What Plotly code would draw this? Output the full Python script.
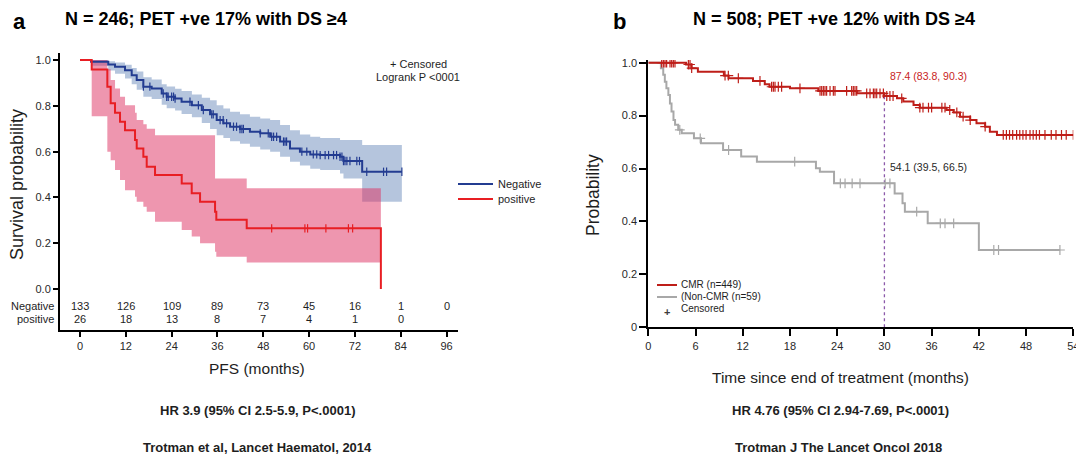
import plotly.graph_objects as go

# the page body adds an 8px margin, so the figure is drawn 8px smaller and positions are shifted
OFF = 8
W, H = 1084 - OFF, 459 - OFF

# ---------------- Panel a data ----------------
neg_t = [0, 2.9, 7.4, 9.17, 11.79, 13.54, 14.85, 16.59, 18.77, 21.4, 22.7, 24.9, 26.6, 29.3, 31.9,
         34.06, 35.8, 37.55, 39.3, 41.9, 44.5, 47.2, 49.8, 52.4, 55.0, 57.6, 60.3, 62.9, 68.1, 69.0, 73.9]
neg_s = [1.0, 0.993, 0.981, 0.971, 0.956, 0.934, 0.913, 0.884, 0.876, 0.854, 0.840, 0.832, 0.818, 0.803, 0.782,
         0.763, 0.738, 0.724, 0.709, 0.699, 0.687, 0.680, 0.665, 0.644, 0.614, 0.600, 0.588, 0.585, 0.578, 0.559, 0.512]
neg_up = [1.0, 1.0, 0.995, 0.99, 0.98, 0.965, 0.95, 0.925, 0.915, 0.895, 0.885, 0.875, 0.865, 0.85, 0.835,
          0.825, 0.803, 0.789, 0.774, 0.763, 0.753, 0.745, 0.738, 0.716, 0.694, 0.675, 0.665, 0.660, 0.651, 0.651, 0.629]
neg_lo = [1.0, 0.975, 0.955, 0.94, 0.92, 0.895, 0.87, 0.84, 0.83, 0.805, 0.79, 0.78, 0.765, 0.75, 0.725,
          0.699, 0.672, 0.66, 0.645, 0.635, 0.622, 0.610, 0.600, 0.578, 0.556, 0.54, 0.525, 0.520, 0.505, 0.483, 0.381]
neg_end = 84.3
neg_cens = [16.6, 18.3, 21.8, 22.7, 23.1, 24.0, 24.5, 24.9, 28.8, 31.0, 32.3, 34.5, 34.9, 36.7, 37.5, 38.4,
            40.2, 41.0, 41.9, 42.4, 42.8, 47.2, 49.3, 50.2, 50.7, 51.5, 53.3, 53.7, 54.1, 58.1, 59.4, 61.1,
            62.0, 62.9, 64.2, 65.1, 66.4, 67.2, 68.1, 68.6, 69.0, 69.4, 69.9, 70.7, 72.5, 73.2, 75.1, 79.5,
            80.3, 84.3]

pos_t = [0, 3.06, 7.16, 8.03, 9.17, 10.48, 11.79, 14.41, 14.85, 16.59, 17.47, 19.65, 26.64, 29.26, 31.44,
         35.37, 35.7, 43.66, 78.8]
pos_s = [1.0, 0.959, 0.884, 0.811, 0.770, 0.731, 0.694, 0.651, 0.614, 0.578, 0.534, 0.498, 0.461, 0.418, 0.381,
         0.338, 0.303, 0.265, 0.0]
band_t = [3.06, 7.16, 8.03, 9.17, 10.48, 11.79, 14.41, 14.85, 16.59, 17.47, 19.65, 26.64, 29.26, 31.44,
          35.37, 35.7, 43.66]
pos_up = [1.0, 0.96, 0.913, 0.876, 0.84, 0.803, 0.77, 0.738, 0.72, 0.70, 0.672, 0.672, 0.672, 0.672,
          0.483, 0.483, 0.44]
pos_lo = [0.755, 0.60, 0.563, 0.52, 0.476, 0.432, 0.403, 0.381, 0.359, 0.338, 0.294, 0.258, 0.229, 0.20,
          0.163, 0.141, 0.116]
pos_end = 78.8
pos_cens = [50.2, 58.9, 59.6, 64.4, 70.3, 71.4]

risk_times = [0, 12, 24, 36, 48, 60, 72, 84, 96]
risk_neg = [133, 126, 109, 89, 73, 45, 16, 1, 0]
risk_pos = [26, 18, 13, 8, 7, 4, 1, 0]

# ---------------- Panel b data ----------------
cmr_t = [0, 4.8, 5.5, 6.3, 9.6, 10.2, 13.3, 14.8, 15.4, 18.0, 21.6, 26.5, 30.0, 31.6, 32.4, 33.7, 34.5,
         37.9, 38.8, 39.6, 40.9, 41.7, 42.8, 43.4, 44.3]
cmr_s = [1.0, 0.993, 0.979, 0.966, 0.951, 0.941, 0.931, 0.918, 0.909, 0.903, 0.893, 0.884, 0.874, 0.865,
         0.853, 0.840, 0.830, 0.821, 0.812, 0.796, 0.783, 0.771, 0.758, 0.739, 0.727]
cmr_end = 54.0
cmr_cens = [1.7, 1.91, 2.12, 2.33, 2.76, 2.97, 3.18, 3.39, 5.09, 5.3, 5.51, 9.75, 10.17, 11.44, 14.19,
            15.67, 15.89, 16.1, 16.52, 16.94, 19.27, 21.82, 22.03, 22.24, 22.45, 22.66, 23.09, 23.51, 23.72,
            25.2, 25.84, 26.05, 26.26, 26.48, 27.75, 28.17, 28.6, 28.8, 29.02, 29.44, 29.87, 30.3, 30.7,
            31.1, 32.2, 34.5, 34.9, 35.6, 36.0, 37.3, 37.7, 38.3, 39.2, 40.0, 40.9, 42.8, 45.1, 45.5, 45.9,
            46.3, 46.8, 47.2, 47.6, 48.0, 48.5, 48.9, 49.3, 49.7, 50.4, 51.2, 51.8, 52.5, 53.1, 54.0]

ncmr_t = [0, 1.6, 1.9, 2.1, 2.3, 2.55, 2.75, 2.95, 3.2, 3.4, 3.8, 4.25, 5.8, 6.7, 9.5, 11.8, 13.8, 21.3,
          21.8, 23.6, 31.3, 32.3, 32.6, 35.5, 42.0]
ncmr_s = [1.0, 0.979, 0.954, 0.928, 0.903, 0.878, 0.846, 0.815, 0.783, 0.765, 0.746, 0.733, 0.714, 0.695,
          0.670, 0.645, 0.626, 0.601, 0.588, 0.544, 0.506, 0.469, 0.437, 0.393, 0.292]
ncmr_end = 52.3
ncmr_cens = [4.0, 6.6, 10.2, 18.6, 24.4, 25.0, 25.9, 26.9, 30.1, 30.7, 34.1, 37.1, 37.7, 38.8, 43.9, 44.5, 52.3]

landmark = 30

# ---------------- helpers ----------------
def step_at(ts, ss, t):
    v = ss[0]
    for a, b in zip(ts, ss):
        if a <= t:
            v = b
    return v

def ext(ts, ss, end):
    return list(ts) + [end], list(ss) + [ss[-1]]

FONT = "Liberation Sans, Arial, Helvetica, sans-serif"

BLUE = "rgb(35,60,145)"
RED = "rgb(232,30,35)"
CMR_RED = "rgb(190,30,25)"
GREY = "rgb(168,168,168)"

fig = go.Figure()

def band(ts, lo, up, end, color):
    x, y = ext(ts, lo, end)
    fig.add_trace(go.Scatter(x=x, y=y, mode="lines", line=dict(width=0, shape="hv"),
                             showlegend=False, hoverinfo="skip", xaxis="x", yaxis="y"))
    x, y = ext(ts, up, end)
    fig.add_trace(go.Scatter(x=x, y=y, mode="lines", line=dict(width=0, shape="hv"), fill="tonexty",
                             fillcolor=color, showlegend=False, hoverinfo="skip", xaxis="x", yaxis="y"))

band(neg_t, neg_lo, neg_up, neg_end, "rgba(70,110,170,0.40)")
band(band_t, pos_lo, pos_up, pos_end, "rgba(222,45,95,0.50)")

def censor(ts, ss, cens, color, symbol, size, xa, ya):
    fig.add_trace(go.Scatter(x=cens, y=[step_at(ts, ss, t) for t in cens], mode="markers",
                             marker=dict(symbol=symbol, size=size, color=color,
                                         line=dict(color=color, width=1.2)),
                             showlegend=False, hoverinfo="skip", xaxis=xa, yaxis=ya))

# curves (panel a)
x, y = ext(neg_t, neg_s, neg_end)
fig.add_trace(go.Scatter(x=x, y=y, mode="lines", line=dict(color=BLUE, width=2, shape="hv"),
                         showlegend=False, xaxis="x", yaxis="y"))
fig.add_trace(go.Scatter(x=pos_t, y=pos_s, mode="lines", line=dict(color=RED, width=2, shape="hv"),
                         showlegend=False, xaxis="x", yaxis="y"))
censor(neg_t, neg_s, neg_cens, BLUE, "line-ns-open", 6, "x", "y")
censor(pos_t, pos_s, pos_cens, RED, "line-ns-open", 6, "x", "y")

# panel b
fig.add_trace(go.Scatter(x=[landmark, landmark], y=[0, step_at(cmr_t, cmr_s, landmark)], mode="lines",
                         line=dict(color="rgb(140,90,170)", width=1.3, dash="dot"),
                         showlegend=False, hoverinfo="skip", xaxis="x2", yaxis="y2"))
x, y = ext(ncmr_t, ncmr_s, ncmr_end)
fig.add_trace(go.Scatter(x=x, y=y, mode="lines", line=dict(color=GREY, width=2, shape="hv"),
                         showlegend=False, xaxis="x2", yaxis="y2"))
x, y = ext(cmr_t, cmr_s, cmr_end)
fig.add_trace(go.Scatter(x=x, y=y, mode="lines", line=dict(color=CMR_RED, width=2, shape="hv"),
                         showlegend=False, xaxis="x2", yaxis="y2"))
censor(ncmr_t, ncmr_s, ncmr_cens, GREY, "cross-thin-open", 7, "x2", "y2")
censor(cmr_t, cmr_s, cmr_cens, CMR_RED, "cross-thin-open", 7, "x2", "y2")

def px(v):
    return (v - OFF) / W

def py(v):
    return 1 - (v - OFF) / H

axis_common = dict(showgrid=False, zeroline=False, showline=True, linecolor="black", linewidth=2,
                   ticks="outside", tickcolor="black", tickwidth=1.5, mirror=False, automargin=False,
                   tickfont=dict(family=FONT, size=11, color="rgb(40,40,40)"))

fig.update_layout(
    width=W, height=H, margin=dict(l=0, r=0, t=0, b=0), showlegend=False,
    paper_bgcolor="white", plot_bgcolor="white",
    font=dict(family=FONT, color="rgb(30,30,30)"),
    xaxis=dict(domain=[px(60), px(458)], range=[-5.24, 99.0], tickvals=risk_times, ticklen=5,
               anchor="y", **axis_common),
    yaxis=dict(domain=[py(330), py(53)], range=[-0.179, 1.031], tickvals=[0, 0.2, 0.4, 0.6, 0.8, 1.0],
               ticktext=["0.0", "0.2", "0.4", "0.6", "0.8", "1.0"], ticklen=5, anchor="x", **axis_common),
    xaxis2=dict(domain=[px(648.3), px(1073.3)], range=[0, 54], tickvals=[0, 6, 12, 18, 24, 30, 36, 42, 48, 54],
                ticklen=7, anchor="y2", **axis_common),
    yaxis2=dict(domain=[py(327.3), py(60)], range=[0, 1.01], tickvals=[0, 0.2, 0.4, 0.6, 0.8, 1.0],
                ticktext=["0", "0.2", "0.4", "0.6", "0.8", "1.0"], ticklen=7, anchor="x2", **axis_common),
)

ann = []
def A(text, x, y, size, bold=False, color="rgb(30,30,30)", family=FONT, xanchor="center", angle=0,
      xref="paper", yref="paper", yanchor="middle"):
    if bold:
        text = "<b>" + text + "</b>"
    ann.append(dict(text=text, x=x, y=y, xref=xref, yref=yref, showarrow=False, xanchor=xanchor,
                    yanchor=yanchor, textangle=angle, borderpad=0,
                    font=dict(family=family, size=size, color=color)))

# panel labels & titles (top-anchored so that they stay inside the figure)
A("a", px(19), 1.0, 22, bold=True, color="black", yanchor="top")
A("N = 246; PET +ve 17% with DS ≥4", px(206), 1.0, 18, bold=True, color="black", yanchor="top")
A("b", px(619), 1.0, 22, bold=True, color="black", yanchor="top")
A("N = 508; PET +ve 12% with DS ≥4", px(834), 1.0, 18, bold=True, color="black", yanchor="top")

# axis titles
A("Survival probability", px(17), py(185), 18, angle=-90)
A("PFS (months)", px(257), py(368), 15.5)
A("Probability", px(593), py(195), 17.5, angle=-90)
A("Time since end of treatment (months)", px(840), py(377), 15.5)

# panel a texts
A("+ Censored", px(418), py(64), 11)
A("Logrank P <0001", px(418), py(77), 11)
A("Negative", px(55), -0.073, 11, xanchor="right", yref="y")
A("positive", px(55), -0.131, 11, xanchor="right", yref="y")
for t, n in zip(risk_times, risk_neg):
    A(str(n), t, -0.073, 11, xref="x", yref="y")
for t, n in zip(risk_times, risk_pos):
    A(str(n), t, -0.131, 11, xref="x", yref="y")

# legend (panel a)
shapes = []
def key(x0, x1, yy, color):
    shapes.append(dict(type="line", xref="paper", yref="paper", x0=px(x0), x1=px(x1), y0=py(yy), y1=py(yy),
                       line=dict(color=color, width=2)))
key(458, 493, 184, BLUE)
A("Negative", px(497), py(184), 11, xanchor="left")
key(458, 493, 199, RED)
A("positive", px(497), py(199), 11, xanchor="left")

# legend (panel b)
key(657, 677, 285, CMR_RED)
A("CMR (n=449)", px(680), py(284), 10, xanchor="left")
key(657, 677, 297, GREY)
A("(Non-CMR (n=59)", px(680), py(296), 10, xanchor="left")
A("+", px(667), py(312), 11, color="rgb(60,60,60)", bold=True)
A("Censored", px(680), py(308), 10, xanchor="left")

# panel b texts
A("87.4 (83.8, 90.3)", 30.55, 0.951, 10.5, color="rgb(200,35,35)", xanchor="left", xref="x2", yref="y2")
A("54.1 (39.5, 66.5)", 30.55, 0.607, 10.5, color="rgb(40,40,40)", xanchor="left", xref="x2", yref="y2")

# footers
A("HR 3.9 (95% CI 2.5-5.9, P<.0001)", px(257), py(410), 13, bold=True)
A("Trotman et al, Lancet Haematol, 2014", px(257), py(447), 13, bold=True)
A("HR 4.76 (95% CI 2.94-7.69, P<.0001)", px(840), py(410), 13, bold=True)
A("Trotman J The Lancet Oncol 2018", px(838), py(447), 13, bold=True)

fig.update_layout(annotations=ann, shapes=shapes)
fig.write_html("out.html")
